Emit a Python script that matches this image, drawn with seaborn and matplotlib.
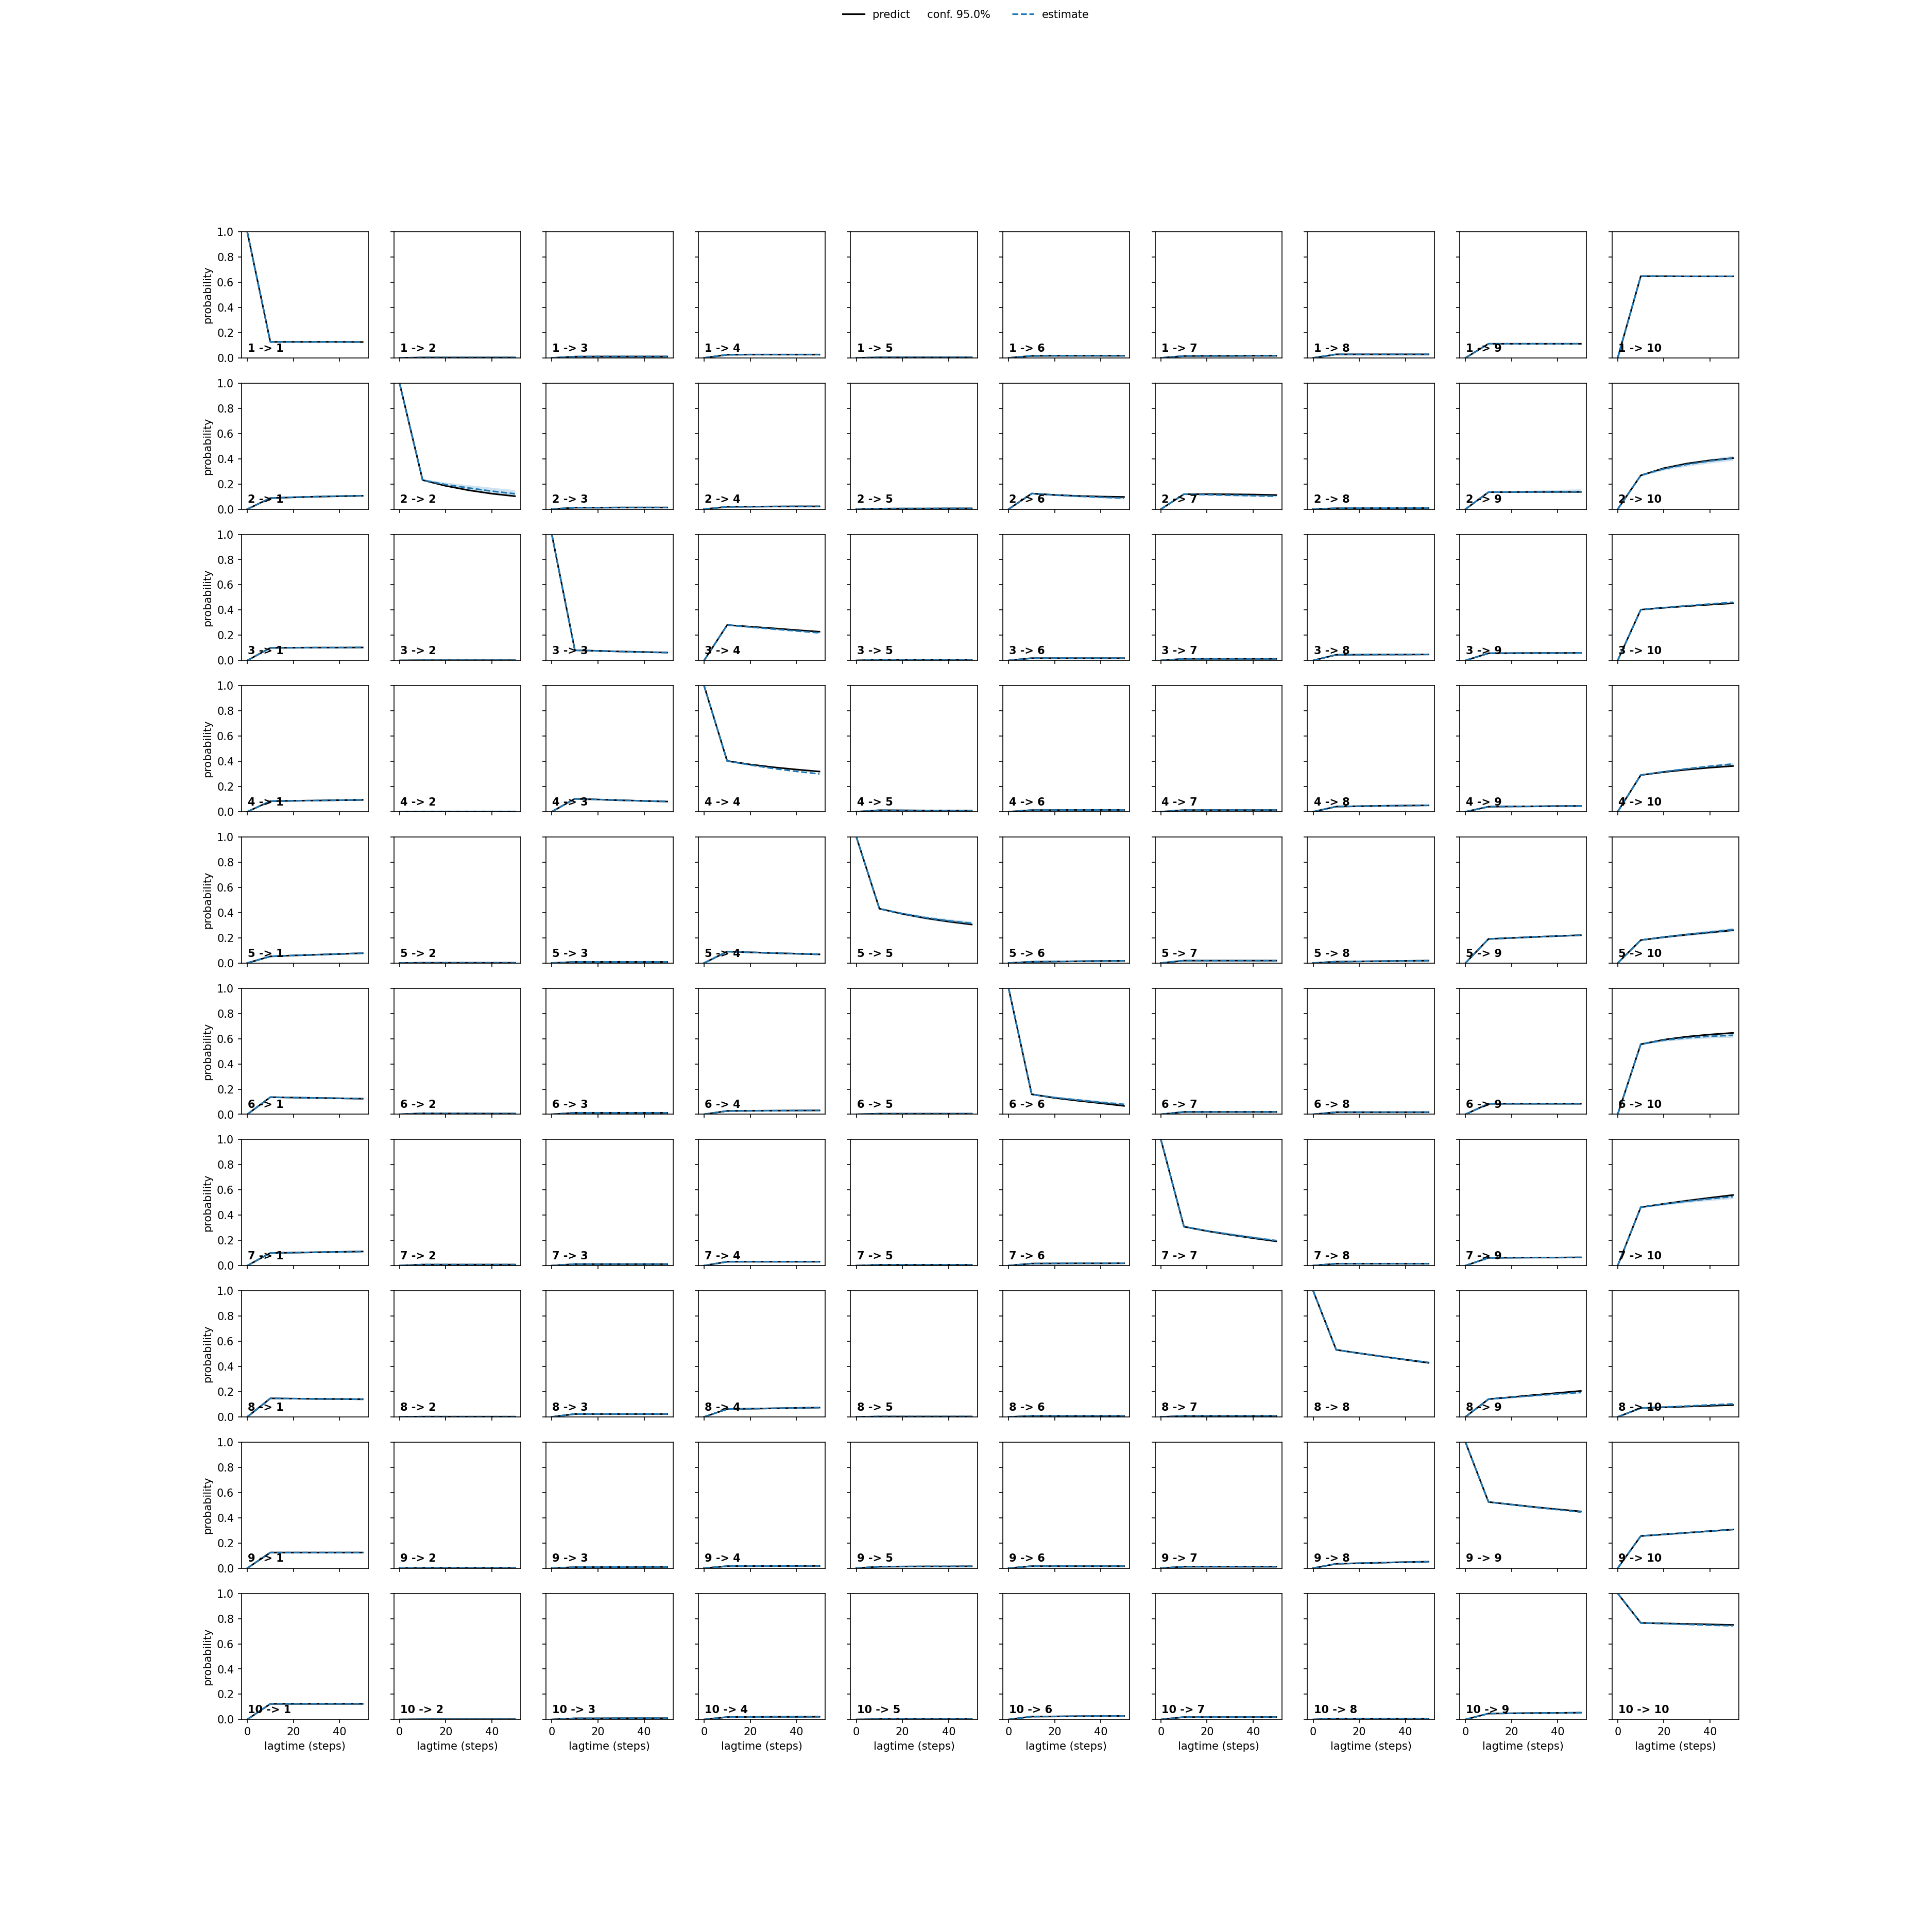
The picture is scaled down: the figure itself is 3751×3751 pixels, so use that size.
import numpy as np
import matplotlib
matplotlib.use("Agg")
import matplotlib.pyplot as plt
import seaborn as sns

# lag times (steps) of the Chapman-Kolmogorov test
lagtimes = [0, 10, 20, 30, 40, 50]
n_states = 10

# predicted transition probabilities, rows = start state, entries = target state,
# values at lag 10, 20, 30, 40, 50 (lag 0 is the identity)
predict_1 = [[.127, .127, .127, .127, .126], [.003, .003, .003, .003, .003], [.010, .011, .011, .011, .011],
             [.025, .026, .026, .026, .026], [.004, .004, .004, .004, .004], [.016, .017, .017, .017, .017],
             [.015, .016, .016, .017, .017], [.028, .028, .028, .028, .028], [.112, .112, .112, .112, .112],
             [.648, .648, .647, .647, .647]]
predict_2 = [[.088, .094, .099, .103, .106], [.231, .185, .150, .123, .103], [.012, .012, .013, .013, .013],
             [.019, .020, .021, .022, .022], [.004, .005, .005, .006, .006], [.124, .113, .105, .100, .097],
             [.119, .119, .118, .116, .112], [.007, .008, .008, .009, .009], [.135, .136, .137, .137, .137],
             [.268, .325, .362, .387, .405]]
predict_3 = [[.100, .101, .102, .102, .103], [.002, .002, .002, .002, .002], [.081, .076, .071, .067, .063],
             [.281, .268, .255, .241, .228], [.006, .006, .006, .006, .006], [.018, .018, .018, .018, .018],
             [.013, .013, .013, .013, .013], [.045, .046, .047, .047, .048], [.057, .058, .059, .059, .060],
             [.403, .418, .431, .443, .454]]
predict_4 = [[.084, .087, .089, .092, .094], [.002, .002, .002, .002, .002], [.103, .097, .091, .086, .081],
             [.403, .375, .353, .335, .319], [.012, .011, .010, .010, .009], [.013, .013, .014, .014, .014],
             [.013, .013, .013, .013, .013], [.041, .044, .047, .049, .051], [.040, .042, .043, .045, .046],
             [.291, .315, .334, .350, .363]]
predict_5 = [[.053, .060, .066, .072, .078], [.002, .002, .002, .002, .002], [.009, .009, .009, .009, .009],
             [.091, .085, .079, .074, .069], [.431, .390, .356, .329, .306], [.010, .012, .014, .016, .017],
             [.019, .019, .019, .019, .019], [.011, .013, .015, .017, .019], [.191, .199, .207, .214, .221],
             [.182, .205, .225, .243, .260]]
predict_6 = [[.136, .133, .130, .127, .124], [.008, .007, .007, .006, .006], [.012, .012, .012, .012, .012],
             [.027, .028, .029, .030, .031], [.005, .005, .005, .005, .005], [.159, .130, .108, .088, .067],
             [.019, .019, .019, .019, .019], [.017, .017, .017, .017, .017], [.084, .084, .084, .084, .084],
             [.556, .592, .616, .633, .646]]
predict_7 = [[.100, .103, .106, .109, .112], [.008, .008, .008, .008, .008], [.012, .012, .012, .012, .012],
             [.031, .031, .031, .031, .031], [.006, .006, .006, .006, .006], [.016, .017, .018, .018, .019],
             [.309, .274, .245, .218, .193], [.015, .015, .015, .015, .015], [.062, .063, .064, .064, .065],
             [.463, .490, .515, .538, .560]]
predict_8 = [[.147, .145, .143, .142, .140], [.002, .002, .002, .002, .002], [.023, .023, .023, .023, .023],
             [.062, .065, .068, .071, .074], [.003, .003, .003, .003, .003], [.007, .007, .007, .007, .007],
             [.007, .007, .007, .007, .007], [.532, .505, .479, .454, .429], [.141, .157, .174, .190, .206],
             [.070, .076, .082, .088, .094]]
predict_9 = [[.124, .124, .124, .124, .124], [.002, .002, .002, .002, .002], [.008, .009, .009, .010, .010],
             [.016, .017, .017, .018, .018], [.012, .013, .014, .014, .015], [.016, .016, .016, .016, .016],
             [.012, .012, .012, .012, .012], [.035, .039, .044, .048, .052], [.525, .505, .485, .467, .450],
             [.255, .268, .281, .294, .307]]
predict_10 = [[.124, .124, .124, .124, .124], [.002, .002, .002, .002, .002], [.009, .009, .010, .010, .010],
              [.019, .020, .021, .021, .022], [.003, .003, .003, .003, .003], [.023, .024, .026, .027, .028],
              [.019, .019, .019, .019, .019], [.007, .007, .007, .007, .007], [.047, .049, .051, .052, .054],
              [.766, .762, .758, .754, .750]]

# estimated transition probabilities, same layout
estimate_1 = [[.127, .127, .127, .127, .126], [.003, .003, .003, .003, .003], [.010, .011, .011, .011, .011],
              [.025, .026, .026, .026, .026], [.004, .004, .004, .004, .004], [.016, .017, .017, .017, .017],
              [.015, .016, .016, .017, .017], [.028, .028, .028, .028, .028], [.112, .112, .112, .112, .112],
              [.648, .648, .647, .647, .647]]
estimate_2 = [[.088, .095, .100, .104, .107], [.231, .195, .168, .143, .122], [.012, .012, .013, .013, .013],
              [.019, .020, .021, .022, .022], [.004, .005, .005, .006, .006], [.124, .112, .103, .095, .088],
              [.119, .115, .111, .107, .103], [.007, .008, .008, .009, .009], [.135, .136, .137, .138, .139],
              [.268, .320, .355, .382, .405]]
estimate_3 = [[.100, .101, .102, .102, .103], [.002, .002, .002, .002, .002], [.081, .076, .071, .066, .062],
              [.281, .265, .249, .234, .219], [.006, .006, .006, .006, .006], [.018, .018, .018, .018, .018],
              [.013, .013, .013, .013, .013], [.045, .046, .047, .047, .048], [.057, .058, .059, .059, .060],
              [.403, .419, .434, .448, .462]]
estimate_4 = [[.084, .087, .089, .092, .094], [.002, .002, .002, .002, .002], [.103, .097, .091, .086, .081],
              [.403, .371, .343, .320, .300], [.012, .011, .010, .010, .009], [.013, .013, .014, .014, .014],
              [.013, .013, .013, .013, .013], [.041, .044, .047, .049, .051], [.040, .042, .043, .045, .046],
              [.291, .318, .341, .361, .379]]
estimate_5 = [[.053, .060, .066, .072, .078], [.002, .002, .002, .002, .002], [.009, .009, .009, .009, .009],
              [.091, .085, .079, .074, .069], [.431, .392, .360, .335, .315], [.010, .012, .014, .016, .017],
              [.019, .019, .019, .019, .019], [.011, .013, .015, .017, .019], [.191, .199, .207, .214, .221],
              [.182, .206, .227, .246, .265]]
estimate_6 = [[.136, .133, .130, .127, .124], [.008, .007, .007, .006, .006], [.012, .012, .012, .012, .012],
              [.027, .028, .029, .030, .031], [.005, .005, .005, .005, .005], [.159, .133, .114, .095, .079],
              [.019, .019, .019, .019, .019], [.017, .017, .017, .017, .017], [.084, .084, .084, .084, .084],
              [.556, .588, .607, .619, .627]]
estimate_7 = [[.100, .103, .106, .109, .112], [.008, .008, .008, .008, .008], [.012, .012, .012, .012, .012],
              [.031, .031, .031, .031, .031], [.006, .006, .006, .006, .006], [.016, .017, .018, .018, .019],
              [.309, .276, .248, .222, .198], [.015, .015, .015, .015, .015], [.062, .063, .064, .064, .065],
              [.463, .488, .511, .530, .547]]
estimate_8 = [[.147, .145, .143, .142, .140], [.002, .002, .002, .002, .002], [.023, .023, .023, .023, .023],
              [.062, .065, .068, .071, .074], [.003, .003, .003, .003, .003], [.007, .007, .007, .007, .007],
              [.007, .007, .007, .007, .007], [.532, .505, .479, .455, .432], [.141, .155, .169, .182, .194],
              [.070, .078, .086, .095, .103]]
estimate_9 = [[.124, .124, .124, .124, .124], [.002, .002, .002, .002, .002], [.008, .009, .009, .010, .010],
              [.016, .017, .017, .018, .018], [.012, .013, .014, .014, .015], [.016, .016, .016, .016, .016],
              [.012, .012, .012, .012, .012], [.035, .039, .044, .048, .052], [.525, .504, .483, .464, .445],
              [.255, .268, .281, .294, .307]]
estimate_10 = [[.124, .124, .124, .124, .124], [.002, .002, .002, .002, .002], [.009, .009, .010, .010, .010],
               [.019, .020, .021, .021, .022], [.003, .003, .003, .003, .003], [.023, .024, .026, .027, .028],
               [.019, .019, .019, .019, .019], [.007, .007, .007, .007, .007], [.047, .049, .051, .052, .054],
               [.766, .760, .754, .748, .743]]

# 95% confidence band of the estimates where it is visible (lag 10..50)
conf_lower = {
    (2, 2): [.225, .185, .155, .125, .100], (2, 6): [.120, .106, .096, .088, .080],
    (2, 7): [.115, .109, .104, .100, .096], (2, 9): [.131, .131, .131, .131, .131],
    (2, 10): [.262, .308, .340, .365, .385], (4, 10): [.287, .311, .332, .351, .368],
    (5, 5): [.425, .382, .347, .320, .298], (5, 10): [.178, .198, .216, .233, .250],
    (6, 6): [.153, .124, .103, .085, .070], (6, 10): [.550, .578, .594, .604, .610],
    (7, 7): [.304, .268, .238, .210, .186], (7, 10): [.458, .478, .498, .515, .530],
    (8, 8): [.528, .499, .472, .447, .423], (8, 9): [.137, .150, .163, .175, .186],
}
conf_upper = {
    (2, 2): [.238, .213, .192, .172, .153], (2, 6): [.128, .117, .109, .102, .096],
    (2, 7): [.123, .121, .118, .114, .110], (2, 9): [.140, .145, .150, .155, .160],
    (2, 10): [.274, .332, .370, .399, .425], (4, 10): [.295, .325, .350, .371, .390],
    (5, 5): [.437, .402, .373, .350, .332], (5, 10): [.186, .214, .238, .259, .280],
    (6, 6): [.165, .142, .125, .108, .090], (6, 10): [.562, .598, .620, .634, .644],
    (7, 7): [.314, .284, .258, .234, .210], (7, 10): [.468, .498, .524, .545, .564],
    (8, 8): [.536, .511, .486, .463, .441], (8, 9): [.145, .160, .175, .189, .202],
}

predict = np.array([predict_1, predict_2, predict_3, predict_4, predict_5,
                    predict_6, predict_7, predict_8, predict_9, predict_10])
estimate = np.array([estimate_1, estimate_2, estimate_3, estimate_4, estimate_5,
                     estimate_6, estimate_7, estimate_8, estimate_9, estimate_10])
start = np.eye(n_states)

fig, axes = plt.subplots(n_states, n_states, sharex=True, sharey=True, figsize=(25.007, 25.007))

for i in range(n_states):
    for j in range(n_states):
        ax = axes[i, j]
        p = np.concatenate([[start[i, j]], predict[i, j]])
        e = np.concatenate([[start[i, j]], estimate[i, j]])
        sns.lineplot(x=lagtimes, y=p, color="black", ax=ax, legend=False)
        key = (i + 1, j + 1)
        if key in conf_lower:
            lo = np.concatenate([[start[i, j]], conf_lower[key]])
            hi = np.concatenate([[start[i, j]], conf_upper[key]])
            ax.fill_between(lagtimes, lo, hi, color="C0", alpha=0.2, linewidth=0)
        sns.lineplot(x=lagtimes, y=e, color="C0", linestyle="--", ax=ax, legend=False)
        ax.text(0.05, 0.05, str(i + 1) + " -> " + str(j + 1), transform=ax.transAxes, weight="bold")
        ax.set_ylim(0, 1)
        ax.set_xlabel("")
        ax.set_ylabel("")
        if j == 0:
            ax.set_ylabel("probability")
        if i == n_states - 1:
            ax.set_xlabel("lagtime (steps)")

l_pred = axes[0, 0].lines[0]
l_est = axes[0, 0].lines[1]
fig.legend((l_pred, l_est), ("predict     conf. 95.0%", "estimate"), loc="upper center", ncol=2, frameon=False)

fig.savefig("out.png", dpi=150)
